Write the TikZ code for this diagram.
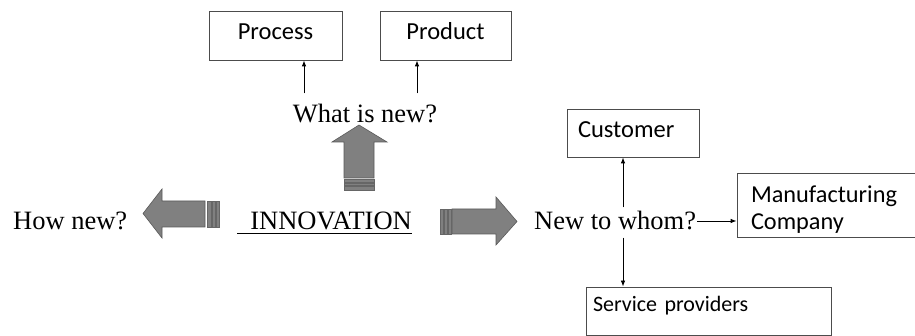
\documentclass[tikz,border=0pt]{standalone}
\usepackage{fontspec}
\setmainfont{Liberation Serif}
\newfontfamily\boxfont{Carlito}
\usetikzlibrary{arrows.meta}

\tikzset{
  box/.style={draw=black!70, line width=0.8pt, inner xsep=0pt, inner ysep=0pt,
    font=\boxfont\fontsize{24.5}{28}\selectfont},
  question/.style={inner sep=1pt, font=\fontsize{26.5}{30}\selectfont},
  arr/.style={-{Latex[length=6pt,width=4.5pt]}, line width=0.8pt},
  blockarrow/.style={fill=black!50, draw=black!65, line width=0.6pt},
  stripe/.style={fill=black!50, draw=black!60, line width=0.3pt}
}

\begin{document}
\begin{tikzpicture}[x=1pt,y=-1pt]
\useasboundingbox (0,0) rectangle (915,336);

\node[box, minimum width=133pt, text height=29pt, text depth=20pt] (process) at (275.5,35.5) {Process};
\node[box, minimum width=131pt, text height=29pt, text depth=20pt] (product) at (445.5,35.5) {Product};
\node[question, anchor=base] (whatnew) at (365,123) {What is new?};
\node[question, anchor=base east, inner sep=0pt] (innov) at (412,230) {INNOVATION};
\node[question, anchor=base west] (hownew) at (12,230) {How new?};
\node[question, anchor=base west] (whom) at (533,230) {New to whom?};
\node[box, text width=110pt, inner xsep=11pt, align=left, text height=29pt, text depth=19pt] (customer) at (633,133) {Customer};
\node[box, text width=152pt, inner xsep=14pt, align=left, minimum height=64pt,
  font=\boxfont\fontsize{24.3}{26.5}\selectfont] (manuf) at (827,205) {\rule{0pt}{26pt}Manufacturing\\Company};
\node[box, text width=231pt, inner xsep=7pt, align=left, text height=25pt, text depth=23pt,
  font=\boxfont\fontsize{22}{26}\selectfont] (service) at (708.5,311) {Service providers};

% underline of the title
\draw[line width=1pt] ([shift={(-13,4)}]innov.base west) -- ([shift={(0,4)}]innov.base east);

% thin arrows
\draw[arr] ([xshift=28.5pt]process.south) ++(0,33) -- ([xshift=28.5pt]process.south);
\draw[arr] ([xshift=-28.5pt]product.south) ++(0,33) -- ([xshift=-28.5pt]product.south);
\draw[arr] ([xshift=-10pt]customer.south) ++(0,50) -- ([xshift=-10pt]customer.south);
\draw[arr] (whom.east) -- (whom.east -| manuf.west);
\draw[arr] ([xshift=-85.5pt]service.north) ++(0,-49) -- ([xshift=-85.5pt]service.north);

% block arrows
\draw[blockarrow] (359,125) -- (387,142) -- (374,142) -- (374,178) -- (344,178) -- (344,142) -- (332,142) -- cycle;
\draw[stripe] (344,179.5) rectangle (374,182);
\draw[stripe] (344,183) rectangle (374,185.5);
\draw[stripe] (344,186.5) rectangle (374,190);

\draw[blockarrow] (143,213.5) -- (162,189) -- (162,201) -- (205,201) -- (205,227) -- (162,227) -- (162,238) -- cycle;
\draw[stripe] (207,201) rectangle (211,227);
\draw[stripe] (212.5,201) rectangle (215.5,227);
\draw[stripe] (216.5,201) rectangle (219.5,227);

\draw[blockarrow] (517,221.5) -- (496,245) -- (496,234) -- (452,234) -- (452,209) -- (496,209) -- (496,197) -- cycle;
\draw[stripe] (448,209) rectangle (451,234);
\draw[stripe] (444,209) rectangle (447,234);
\draw[stripe] (440,209) rectangle (443,234);
\end{tikzpicture}
\end{document}
